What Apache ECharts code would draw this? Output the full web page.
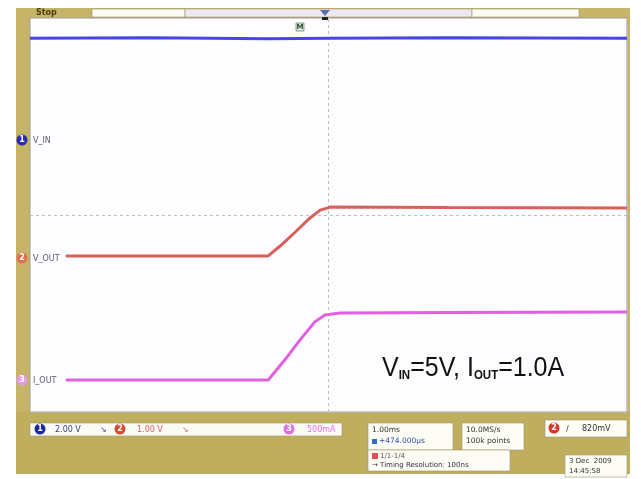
<!DOCTYPE html>
<html>
<head>
<meta charset="utf-8">
<script src="https://cdn.jsdelivr.net/npm/echarts@6/dist/echarts.min.js"></script>
<style>
html,body{margin:0;padding:0;background:#fff;}
#c{width:641px;height:479px;}
</style>
</head>
<body>
<div id="c"></div>
<script>
// time in divisions (1.00 ms/div), level in screen divisions
const vinData  = [[0,7.59],[2,7.60],[4,7.58],[5,7.59],[7,7.60],[10,7.59]];
const voutData = [[0.6,3.17],[2,3.17],[3.99,3.17],[4.19,3.37],[4.44,3.65],[4.69,3.94],[4.86,4.10],[5.03,4.16],[7,4.15],[10,4.14]];
const ioutData = [[0.6,0.65],[2,0.65],[3.99,0.65],[4.27,1.06],[4.52,1.46],[4.77,1.83],[4.94,1.97],[5.19,2.01],[7,2.02],[10,2.03]];
const channelLabels = ['V_IN','V_OUT','I_OUT'];
const scaleLabels = ['2.00 V','1.00 V','500mA'];
const timebase = ['1.00ms','+474.000\u03bcs'];
const sampling = ['10.0MS/s','100k points'];
const trigger = '820mV';
const dateText = ['3 Dec  2009','14:45:58'];

const OLIVE = '#c6b468';
const BLUE = '#4646e2';
const RED = '#d8605c';
const MAG = '#e060e0';

const chart = echarts.init(document.getElementById('c'), null, {renderer:'canvas'});

function circle(x, y, color, label){
  return [
    {type:'circle', z:120, shape:{cx:x, cy:y, r:5.5}, style:{fill:color}},
    {type:'text', z:121, x:x, y:y, style:{text:label, fill:'#fff', font:'bold 8px "DejaVu Sans"', align:'center', verticalAlign:'middle'}}
  ];
}
function box(x,y,w,h,fill){
  return {type:'rect', z:105, shape:{x:x,y:y,width:w,height:h}, style:{fill:fill||'#fdfdf6', stroke:'#9a9470', lineWidth:0.6}};
}
function txt(x,y,t,color,size,bold){
  return {type:'text', z:122, x:x, y:y, style:{text:t, fill:color||'#333', font:(bold?'bold ':'')+(size||8)+'px "DejaVu Sans"', verticalAlign:'middle'}};
}

const graphics = [
  // frame
  {type:'rect', z:-10, shape:{x:16,y:8,width:614,height:466}, style:{fill:OLIVE}},
  {type:'rect', z:-9, shape:{x:16,y:412,width:614,height:62}, style:{fill:'#bfae5e'}},
  // top bar
  txt(36,13,'Stop','#4a3e10',8,true),
  box(92,9,93,8,'#fbfbf3'),
  box(185,9,287,8,'#efe8f4'),
  box(472,9,107,8,'#fbfbf3'),
  {type:'polygon', z:123, shape:{points:[[320,10],[330,10],[325,16]]}, style:{fill:'#5a6fb0'}},
  {type:'rect', z:123, shape:{x:322,y:17,width:6,height:3}, style:{fill:'#222'}},
  {type:'rect', z:120, shape:{x:296,y:23,width:8,height:8}, style:{fill:'#dfe9df', stroke:'#3a6a4a', lineWidth:0.6}},
  {type:'text', z:124, x:300, y:27.5, style:{text:'M', fill:'#1d4a2e', font:'bold 7px "DejaVu Sans"', align:'center', verticalAlign:'middle'}},
  // channel markers on left
  ...circle(22,140,'#2a2ab8','1'),
  txt(33,141,channelLabels[0],'#5a5a7a',8),
  ...circle(22,258,'#e07050','2'),
  txt(33,259,channelLabels[1],'#5a5a7a',8),
  ...circle(22,380,'#e89ae8','3'),
  txt(33,381,channelLabels[2],'#5a5a7a',8),
  // annotation
  {type:'text', z:125, x:382, y:369, scaleY:1.08, style:{
    text:'{b|V}{s|IN}{b|=5V, I}{s|OUT}{b|=1.0A}',
    verticalAlign:'middle',
    rich:{
      b:{font:'25px "Liberation Sans", sans-serif', fill:'#111', verticalAlign:'bottom', lineHeight:25},
      s:{font:'bold 11.5px "Liberation Sans", sans-serif', fill:'#111', verticalAlign:'bottom', lineHeight:25}
    }}},
  // bottom panel
  box(30,423,312,13,'#fbfbf6'),
  ...circle(40,429,'#1a2aa0','1'),
  txt(55,429.5,scaleLabels[0],'#3a3a8a',8),
  txt(100,429.5,'\u2198','#3a3a8a',8),
  ...circle(120,429,'#d84a30','2'),
  txt(137,429.5,scaleLabels[1],'#d86060',8),
  txt(182,429.5,'\u2198','#d86060',8),
  ...circle(289,429,'#e070e0','3'),
  txt(307,429.5,scaleLabels[2],'#e070e0',8),
  box(368,423,85,27),
  txt(372,430,timebase[0],'#333',7.5),
  {type:'rect', z:122, shape:{x:372,y:439,width:5,height:5}, style:{fill:'#3070c0'}},
  txt(379,441.5,timebase[1],'#3050a0',7.5),
  box(462,423,62,27),
  txt(466,430,sampling[0],'#333',7.5),
  txt(466,441.5,sampling[1],'#333',7.5),
  box(368,450,142,21),
  {type:'rect', z:122, shape:{x:372,y:453,width:6,height:6}, style:{fill:'#e05050'}},
  txt(380,456,'1/1-1/4','#555',7),
  txt(372,465,'\u2192 Timing Resolution: 100ns','#334',7),
  box(545,420,82,17),
  ...circle(554,428,'#d83a2a','2'),
  txt(566,428.5,'\u2215','#333',8),
  txt(582,428.5,trigger,'#333',8),
  box(565,455,62,22),
  txt(569,461,dateText[0],'#333',7),
  txt(569,471,dateText[1],'#333',7)
];

const option = {
  animation:false,
  backgroundColor:'#ffffff',
  grid:{left:30, top:18, width:597, height:394, show:true, backgroundColor:'#fdfdff', borderColor:'#9c9c9c', borderWidth:1, z:2},
  xAxis:{type:'value', min:0, max:10, interval:1,
    axisLine:{show:false}, axisTick:{show:false}, axisLabel:{show:false},
    splitLine:{show:true, lineStyle:{color:'#efeff5', width:1, type:'dotted'}}},
  yAxis:{type:'value', min:0, max:8, interval:1,
    axisLine:{show:false}, axisTick:{show:false}, axisLabel:{show:false},
    splitLine:{show:true, lineStyle:{color:'#efeff5', width:1, type:'dotted'}}},
  series:[
    {type:'line', data:vinData, showSymbol:false, lineStyle:{color:BLUE, width:3}, z:5,
      markLine:{silent:true, symbol:'none', label:{show:false},
        lineStyle:{color:'#bdbdbd', type:[3,3], width:1},
        data:[{xAxis:5},{yAxis:4}]}},
    {type:'line', data:voutData, showSymbol:false, lineStyle:{color:RED, width:3}, z:5},
    {type:'line', data:ioutData, showSymbol:false, lineStyle:{color:MAG, width:3}, z:5}
  ],
  graphic:graphics
};
chart.setOption(option);
</script>
</body>
</html>
